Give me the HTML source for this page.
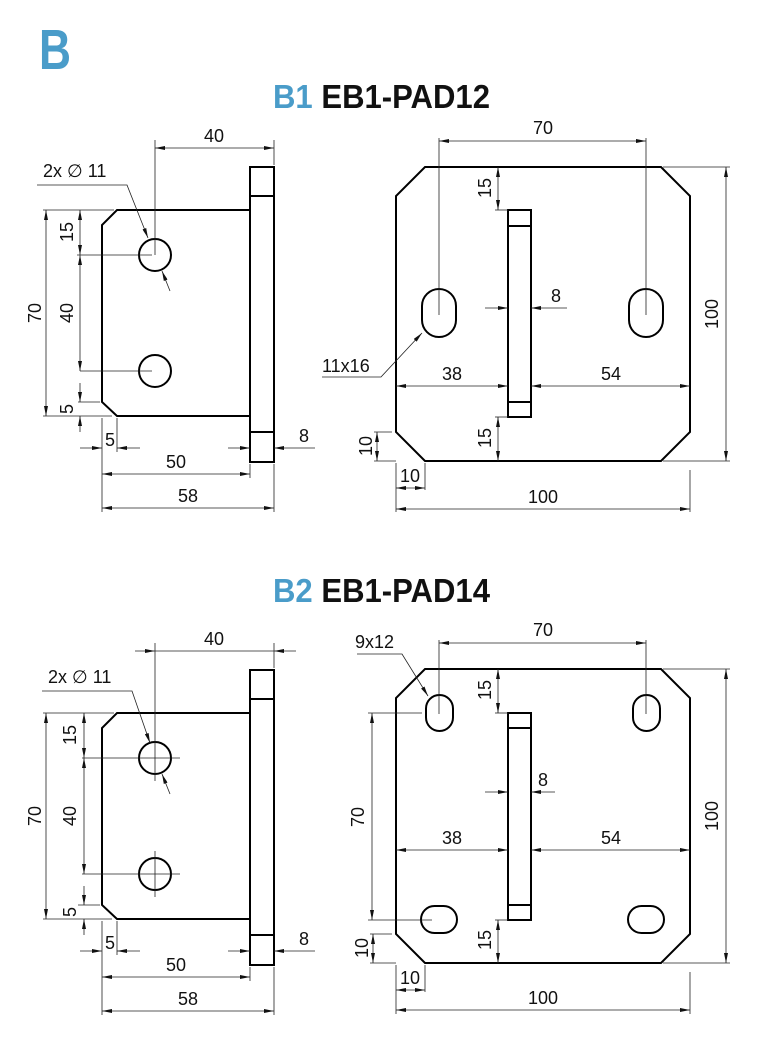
<!DOCTYPE html>
<html><head><meta charset="utf-8"><style>
html,body{margin:0;padding:0;background:#fff;}
svg{display:block;}
text{font-family:"Liberation Sans",sans-serif;fill:#111;}
.d{font-size:18px;}
.t{stroke:#222;stroke-width:0.8;fill:none;}
.k{stroke:#000;stroke-width:2;fill:none;}
.a{stroke:#222;stroke-width:0.8;fill:none;marker-start:url(#ar);marker-end:url(#ar);}
.e{stroke:#222;stroke-width:0.8;fill:none;marker-end:url(#ar);}
</style></head><body>
<svg width="772" height="1052" viewBox="0 0 772 1052" xmlns="http://www.w3.org/2000/svg">
<defs>
<marker id="ar" viewBox="0 0 10 4" refX="10" refY="2" markerWidth="10" markerHeight="4" markerUnits="userSpaceOnUse" orient="auto-start-reverse"><path d="M0,0 L10,2 L0,4 z" fill="#111"/></marker>
</defs>

<text x="39" y="69" font-size="57" font-weight="bold" style="fill:#4a9cc9" textLength="32" lengthAdjust="spacingAndGlyphs">B</text>
<text x="273" y="108" font-size="33" font-weight="bold" textLength="217" lengthAdjust="spacingAndGlyphs"><tspan style="fill:#4a9cc9">B1</tspan> EB1-PAD12</text>
<text x="273" y="602" font-size="33" font-weight="bold" textLength="217" lengthAdjust="spacingAndGlyphs"><tspan style="fill:#4a9cc9">B2</tspan> EB1-PAD14</text>

<!-- ============ B1 LEFT ============ -->
<g>
<path class="k" d="M250,210 L117,210 L102,225 L102,402 L117,416 L250,416"/>
<rect class="k" x="250" y="167" width="24" height="295"/>
<line class="k" x1="250" y1="196" x2="274" y2="196"/>
<line class="k" x1="250" y1="432" x2="274" y2="432"/>
<circle class="k" cx="155" cy="255" r="16"/>
<circle class="k" cx="155" cy="371" r="16"/>
<line class="t" x1="155" y1="140" x2="155" y2="255"/>
<line class="t" x1="274" y1="140" x2="274" y2="165"/>
<line class="a" x1="155" y1="148" x2="274" y2="148"/>
<text class="d" x="214" y="142" text-anchor="middle">40</text>
<text class="d" x="43" y="177">2x ∅ 11</text>
<polyline class="e" points="37,185 127,185 148,238"/>
<line class="e" x1="170" y1="291" x2="162" y2="271"/>
<line class="t" x1="43" y1="210" x2="114" y2="210"/>
<line class="t" x1="43" y1="416" x2="112" y2="416"/>
<line class="a" x1="46" y1="210" x2="46" y2="416"/>
<text class="d" x="35" y="313" text-anchor="middle" dominant-baseline="central" transform="rotate(-90 35 313)">70</text>
<line class="t" x1="77" y1="255" x2="152" y2="255"/>
<line class="t" x1="80" y1="371" x2="152" y2="371"/>
<line class="t" x1="78" y1="402" x2="100" y2="402"/>
<line class="a" x1="80" y1="210" x2="80" y2="255"/>
<line class="a" x1="80" y1="255" x2="80" y2="371"/>
<line class="e" x1="80" y1="383" x2="80" y2="402"/>
<line class="e" x1="80" y1="432" x2="80" y2="416"/>
<text class="d" x="67" y="232" text-anchor="middle" dominant-baseline="central" transform="rotate(-90 67 232)">15</text>
<text class="d" x="67" y="313" text-anchor="middle" dominant-baseline="central" transform="rotate(-90 67 313)">40</text>
<text class="d" x="67" y="409" text-anchor="middle" dominant-baseline="central" transform="rotate(-90 67 409)">5</text>
<line class="t" x1="117" y1="418" x2="117" y2="452"/>
<line class="t" x1="102" y1="418" x2="102" y2="512"/>
<line class="e" x1="80" y1="448" x2="102" y2="448"/>
<line class="e" x1="140" y1="448" x2="117" y2="448"/>
<text class="d" x="110" y="446" text-anchor="middle">5</text>
<line class="t" x1="250" y1="464" x2="250" y2="478"/>
<line class="t" x1="274" y1="464" x2="274" y2="512"/>
<line class="a" x1="102" y1="474" x2="250" y2="474"/>
<text class="d" x="176" y="468" text-anchor="middle">50</text>
<line class="a" x1="102" y1="508" x2="274" y2="508"/>
<text class="d" x="188" y="502" text-anchor="middle">58</text>
<line class="e" x1="228" y1="448" x2="250" y2="448"/>
<line class="e" x1="315" y1="448" x2="274" y2="448"/>
<text class="d" x="304" y="442" text-anchor="middle">8</text>
</g>

<!-- ============ B1 RIGHT ============ -->
<g>
<path class="k" d="M425,167 L661,167 L690,196 L690,432 L661,461 L425,461 L396,432 L396,196 Z"/>
<rect class="k" x="508" y="210" width="23" height="207"/>
<line class="k" x1="508" y1="226" x2="531" y2="226"/>
<line class="k" x1="508" y1="402" x2="531" y2="402"/>
<rect class="k" x="422" y="289" width="34" height="48" rx="17"/>
<rect class="k" x="629" y="289" width="34" height="48" rx="17"/>
<line class="t" x1="439" y1="138" x2="439" y2="315"/>
<line class="t" x1="646" y1="138" x2="646" y2="315"/>
<line class="a" x1="439" y1="141" x2="646" y2="141"/>
<text class="d" x="543" y="134" text-anchor="middle">70</text>
<line class="t" x1="663" y1="167" x2="730" y2="167"/>
<line class="t" x1="663" y1="461" x2="730" y2="461"/>
<line class="a" x1="726" y1="167" x2="726" y2="461"/>
<text class="d" x="712" y="314" text-anchor="middle" dominant-baseline="central" transform="rotate(-90 712 314)">100</text>
<line class="t" x1="495" y1="210" x2="508" y2="210"/>
<line class="a" x1="498" y1="167" x2="498" y2="210"/>
<text class="d" x="485" y="188" text-anchor="middle" dominant-baseline="central" transform="rotate(-90 485 188)">15</text>
<line class="e" x1="485" y1="308" x2="508" y2="308"/>
<line class="e" x1="567" y1="308" x2="531" y2="308"/>
<text class="d" x="556" y="302" text-anchor="middle">8</text>
<line class="a" x1="396" y1="386" x2="508" y2="386"/>
<text class="d" x="452" y="380" text-anchor="middle">38</text>
<line class="a" x1="531" y1="386" x2="690" y2="386"/>
<text class="d" x="611" y="380" text-anchor="middle">54</text>
<line class="t" x1="495" y1="417" x2="508" y2="417"/>
<line class="a" x1="498" y1="417" x2="498" y2="461"/>
<text class="d" x="485" y="438" text-anchor="middle" dominant-baseline="central" transform="rotate(-90 485 438)">15</text>
<line class="t" x1="374" y1="432" x2="392" y2="432"/>
<line class="t" x1="374" y1="461" x2="396" y2="461"/>
<line class="a" x1="377" y1="432" x2="377" y2="461"/>
<text class="d" x="366" y="446" text-anchor="middle" dominant-baseline="central" transform="rotate(-90 366 446)">10</text>
<line class="t" x1="425" y1="463" x2="425" y2="490"/>
<line class="t" x1="396" y1="463" x2="396" y2="512"/>
<line class="t" x1="690" y1="470" x2="690" y2="512"/>
<line class="a" x1="396" y1="488" x2="425" y2="488"/>
<text class="d" x="410" y="482" text-anchor="middle">10</text>
<line class="a" x1="396" y1="509" x2="690" y2="509"/>
<text class="d" x="543" y="503" text-anchor="middle">100</text>
<text class="d" x="322" y="372">11x16</text>
<polyline class="e" points="322,377 381,377 422,333"/>
</g>

<!-- ============ B2 LEFT ============ -->
<g transform="translate(0,503)">
<path class="k" d="M250,210 L117,210 L102,225 L102,402 L117,416 L250,416"/>
<rect class="k" x="250" y="167" width="24" height="295"/>
<line class="k" x1="250" y1="196" x2="274" y2="196"/>
<line class="k" x1="250" y1="432" x2="274" y2="432"/>
<circle class="k" cx="155" cy="255" r="16"/>
<circle class="k" cx="155" cy="371" r="16"/>
<line class="t" x1="155" y1="140" x2="155" y2="278"/>
<line class="t" x1="82" y1="255" x2="180" y2="255"/>
<line class="t" x1="155" y1="348" x2="155" y2="394"/>
<line class="t" x1="82" y1="371" x2="180" y2="371"/>
<line class="t" x1="274" y1="140" x2="274" y2="165"/>
<line class="t" x1="155" y1="148" x2="274" y2="148"/>
<line class="e" x1="135" y1="148" x2="155" y2="148"/>
<line class="e" x1="296" y1="148" x2="274" y2="148"/>
<text class="d" x="214" y="142" text-anchor="middle">40</text>
<text class="d" x="48" y="180">2x ∅ 11</text>
<polyline class="e" points="42,188 132,188 150,240"/>
<line class="e" x1="170" y1="291" x2="162" y2="271"/>
<line class="t" x1="43" y1="210" x2="114" y2="210"/>
<line class="t" x1="43" y1="416" x2="112" y2="416"/>
<line class="a" x1="46" y1="210" x2="46" y2="416"/>
<text class="d" x="35" y="313" text-anchor="middle" dominant-baseline="central" transform="rotate(-90 35 313)">70</text>
<line class="t" x1="78" y1="402" x2="100" y2="402"/>
<line class="a" x1="84" y1="210" x2="84" y2="255"/>
<line class="a" x1="84" y1="255" x2="84" y2="371"/>
<line class="e" x1="84" y1="383" x2="84" y2="402"/>
<line class="e" x1="84" y1="432" x2="84" y2="416"/>
<text class="d" x="70" y="232" text-anchor="middle" dominant-baseline="central" transform="rotate(-90 70 232)">15</text>
<text class="d" x="70" y="313" text-anchor="middle" dominant-baseline="central" transform="rotate(-90 70 313)">40</text>
<text class="d" x="70" y="409" text-anchor="middle" dominant-baseline="central" transform="rotate(-90 70 409)">5</text>
<line class="t" x1="117" y1="418" x2="117" y2="452"/>
<line class="t" x1="102" y1="418" x2="102" y2="512"/>
<line class="e" x1="80" y1="448" x2="102" y2="448"/>
<line class="e" x1="140" y1="448" x2="117" y2="448"/>
<text class="d" x="110" y="446" text-anchor="middle">5</text>
<line class="t" x1="250" y1="464" x2="250" y2="478"/>
<line class="t" x1="274" y1="464" x2="274" y2="512"/>
<line class="a" x1="102" y1="474" x2="250" y2="474"/>
<text class="d" x="176" y="468" text-anchor="middle">50</text>
<line class="a" x1="102" y1="508" x2="274" y2="508"/>
<text class="d" x="188" y="502" text-anchor="middle">58</text>
<line class="e" x1="228" y1="448" x2="250" y2="448"/>
<line class="e" x1="315" y1="448" x2="274" y2="448"/>
<text class="d" x="304" y="442" text-anchor="middle">8</text>
</g>

<!-- ============ B2 RIGHT ============ -->
<g transform="translate(0,502)">
<path class="k" d="M425,167 L661,167 L690,196 L690,432 L661,461 L425,461 L396,432 L396,196 Z"/>
<rect class="k" x="508" y="211" width="23" height="207"/>
<line class="k" x1="508" y1="226" x2="531" y2="226"/>
<line class="k" x1="508" y1="403" x2="531" y2="403"/>
<rect class="k" x="426" y="193" width="27" height="36" rx="13.5"/>
<rect class="k" x="633" y="193" width="27" height="36" rx="13.5"/>
<rect class="k" x="421" y="404" width="36" height="27" rx="13.5"/>
<rect class="k" x="628" y="404" width="36" height="27" rx="13.5"/>
<line class="t" x1="439" y1="138" x2="439" y2="212"/>
<line class="t" x1="646" y1="138" x2="646" y2="212"/>
<line class="a" x1="439" y1="141" x2="646" y2="141"/>
<text class="d" x="543" y="134" text-anchor="middle">70</text>
<line class="t" x1="368" y1="211" x2="422" y2="211"/>
<line class="t" x1="368" y1="418" x2="432" y2="418"/>
<line class="a" x1="372" y1="211" x2="372" y2="418"/>
<text class="d" x="358" y="315" text-anchor="middle" dominant-baseline="central" transform="rotate(-90 358 315)">70</text>
<line class="t" x1="663" y1="167" x2="730" y2="167"/>
<line class="t" x1="663" y1="461" x2="730" y2="461"/>
<line class="a" x1="726" y1="167" x2="726" y2="461"/>
<text class="d" x="712" y="314" text-anchor="middle" dominant-baseline="central" transform="rotate(-90 712 314)">100</text>
<line class="t" x1="495" y1="211" x2="508" y2="211"/>
<line class="a" x1="498" y1="167" x2="498" y2="211"/>
<text class="d" x="485" y="188" text-anchor="middle" dominant-baseline="central" transform="rotate(-90 485 188)">15</text>
<line class="e" x1="485" y1="290" x2="508" y2="290"/>
<line class="e" x1="555" y1="290" x2="531" y2="290"/>
<text class="d" x="543" y="284" text-anchor="middle">8</text>
<line class="a" x1="396" y1="348" x2="508" y2="348"/>
<text class="d" x="452" y="342" text-anchor="middle">38</text>
<line class="a" x1="531" y1="348" x2="690" y2="348"/>
<text class="d" x="611" y="342" text-anchor="middle">54</text>
<line class="t" x1="495" y1="418" x2="508" y2="418"/>
<line class="a" x1="498" y1="418" x2="498" y2="461"/>
<text class="d" x="485" y="438" text-anchor="middle" dominant-baseline="central" transform="rotate(-90 485 438)">15</text>
<line class="t" x1="370" y1="432" x2="392" y2="432"/>
<line class="t" x1="370" y1="461" x2="396" y2="461"/>
<line class="a" x1="373" y1="432" x2="373" y2="461"/>
<text class="d" x="362" y="446" text-anchor="middle" dominant-baseline="central" transform="rotate(-90 362 446)">10</text>
<line class="t" x1="425" y1="463" x2="425" y2="490"/>
<line class="t" x1="396" y1="463" x2="396" y2="512"/>
<line class="t" x1="690" y1="470" x2="690" y2="512"/>
<line class="a" x1="396" y1="488" x2="425" y2="488"/>
<text class="d" x="410" y="482" text-anchor="middle">10</text>
<line class="a" x1="396" y1="508" x2="690" y2="508"/>
<text class="d" x="543" y="502" text-anchor="middle">100</text>
<text class="d" x="355" y="146">9x12</text>
<polyline class="e" points="357,152 402,152 428,194"/>
</g>
</svg>
</body></html>
